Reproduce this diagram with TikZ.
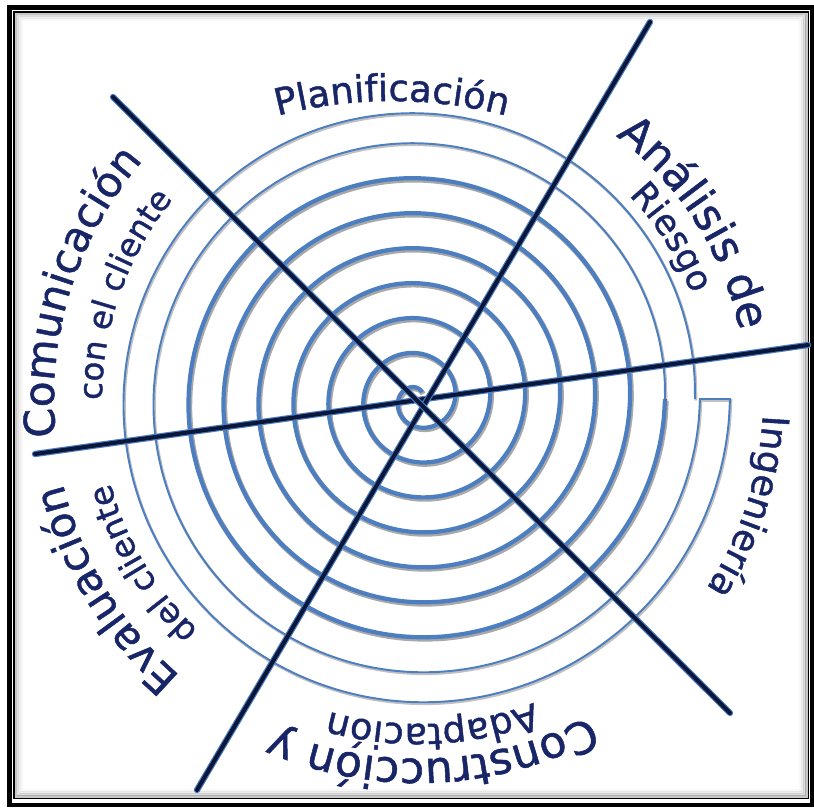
\documentclass[tikz,border=0pt]{standalone}
\usepackage{fontspec}
\setmainfont{DejaVu Sans}
\newfontfamily\labelfont{DejaVu Sans}[FakeBold=1.2]
\usetikzlibrary{decorations.text}

\definecolor{spiralblue}{RGB}{76,126,192}
\definecolor{labelnavy}{RGB}{24,38,104}
\definecolor{axisnavy}{RGB}{10,22,58}

\begin{document}
\begin{tikzpicture}[x=0.02cm, y=0.02cm,
  ringthick/.style={spiralblue, line width=2.4pt},
  ringthin/.style={spiralblue, line width=1.1pt},
  ringshadow/.style={black!75, opacity=0.45, line width=2.9pt},
  crossedge/.style={spiralblue, line width=3.6pt, line cap=round},
  crossline/.style={axisnavy, line width=2.3pt, line cap=round},
  labeltext/.style 2 args={decorate, decoration={text along path, text align=center,
    text color=labelnavy, text={|\labelfont\fontsize{#1}{#1}\selectfont|#2}}}]

  \useasboundingbox (0,0) rectangle (814,808);
  \fill[white] (0,0) rectangle (814,808);

  % --- marco ---
  \foreach \d/\o in {2/0.22, 4/0.13, 6/0.07, 8/0.03}
    \draw[black, opacity=\o, line width=1.2pt] (14+\d,9.5+\d) rectangle (808.5-\d,796-\d);
  \draw[black, line width=2.8pt] (9.5,3) rectangle (812,800.5);
  \draw[black, line width=1.1pt] (14,9.5) rectangle (808.5,796);

  \coordinate (S) at (418,409);
  \coordinate (P0) at (392,257);

  % --- espiral (sombra, luego azul) ---
  \foreach \st/\dx/\dy in {ringshadow/1.2/-1.8, ringthick/0/0}
    \draw[\st, shift={(S)}, shift={(\dx,\dy)}]
      plot[domain=60:2520, samples=500, smooth, variable=\t]
      ({(\t/360*35+2)*cos(\t)}, {(\t/360*35+2)*sin(\t)});

  % --- ultima vuelta fina y remate ---
  \draw[black!70, opacity=0.35, line width=1.5pt, shift={(S)}, shift={(1,-1.5)}]
    plot[domain=2520:2880, samples=80, smooth, variable=\t]
      ({(\t/360*35+2)*cos(\t)}, {(\t/360*35+2)*sin(\t)})
    -- plot[domain=2880:2520, samples=80, smooth, variable=\t]
      ({(\t/360*35+32)*cos(\t)}, {(\t/360*35+32)*sin(\t)});
  \draw[ringthin, shift={(S)}]
    plot[domain=2520:2880, samples=80, smooth, variable=\t]
      ({(\t/360*35+2)*cos(\t)}, {(\t/360*35+2)*sin(\t)})
    -- plot[domain=2880:2520, samples=80, smooth, variable=\t]
      ({(\t/360*35+32)*cos(\t)}, {(\t/360*35+32)*sin(\t)});

  % --- ejes ---
  \coordinate (a1) at (35,354);   \coordinate (a2) at (808,463);
  \coordinate (b1) at (197,18);   \coordinate (b2) at (650,786);
  \coordinate (c1) at (113,711);  \coordinate (c2) at (730,95);
  \foreach \p/\q in {a1/a2, b1/b2, c1/c2} {
    \draw[crossedge] (\p) -- (\q);
    \draw[crossline] (\p) -- (\q);
  }

  % --- etiquetas ---
  \path[labeltext={21pt}{Planificación}]
    ([shift={(115:450)}]P0) arc[start angle=115, end angle=65, radius=450];
  \path[labeltext={25pt}{Análisis de}]
    ([shift={(78:329)}]S) arc[start angle=78, end angle=-13, radius=329];
  \path[labeltext={20pt}{Riesgo}]
    ([shift={(78:293)}]S) arc[start angle=78, end angle=-13, radius=293];
  \path[labeltext={21pt}{Ingeniería}]
    ([shift={(27:345)}]S) arc[start angle=27, end angle=-63, radius=345];
  \path[labeltext={25pt}{Construcción y}]
    ([shift={(-42:360)}]S) arc[start angle=-42, end angle=-133.4, radius=360];
  \path[labeltext={21pt}{Adaptación}]
    ([shift={(-42:325)}]S) arc[start angle=-42, end angle=-133, radius=325];
  \path[labeltext={24pt}{Evaluación}]
    ([shift={(256:365)}]S) arc[start angle=256, end angle=166.8, radius=365];
  \path[labeltext={19pt}{del cliente}]
    ([shift={(256:319)}]S) arc[start angle=256, end angle=165.8, radius=319];
  \path[labeltext={24pt}{Comunicación}]
    ([shift={(208:364)}]S) arc[start angle=208, end angle=117, radius=364];
  \path[labeltext={18.5pt}{con el cliente}]
    ([shift={(206:316)}]S) arc[start angle=206, end angle=115, radius=316];

\end{tikzpicture}
\end{document}
